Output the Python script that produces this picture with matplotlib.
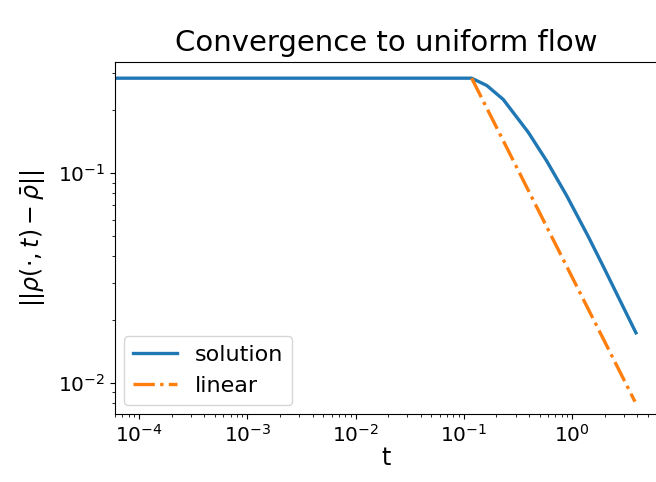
import matplotlib
matplotlib.use("Agg")
import matplotlib.pyplot as plt

# data
t_sol = [6.0e-5, 1e-4, 1e-3, 1e-2, 0.05, 0.118, 0.163, 0.231, 0.394, 0.582, 0.889, 1.41, 1.94, 2.67, 3.88]
sol = [0.283, 0.283, 0.283, 0.283, 0.283, 0.283, 0.261, 0.224, 0.156, 0.114, 0.078, 0.0497, 0.0358, 0.0256, 0.0173]
t_lin = [0.118, 3.8]
lin = [0.283, 0.00813]

W, H = 656, 482
fig = plt.figure(figsize=(W / 100, H / 100), dpi=100)
ax = fig.add_axes([115 / W, 1 - 414 / H, 545 / W, (414 - 62) / H])
ax.loglog(t_sol, sol, color="#1f77b4", lw=2.4, label="solution")
ax.loglog(t_lin, lin, color="#ff7f0e", lw=2.4, ls="-.", label="linear")
ax.set_xlim(6.0e-5, 6.47)
ax.set_ylim(0.0071, 0.338)
ax.set_title("Convergence to uniform flow", fontsize=21, pad=8, x=(386 - 115) / 545)
ax.set_xlabel("t", fontsize=17)
ax.xaxis.set_label_coords((386 - 115) / 545, -0.09)
ax.set_ylabel(r"$||\rho(\cdot,t)-\bar{\rho}||$", fontsize=17)
ax.yaxis.set_label_coords(-(115 - 47) / 545, 0.5)
ax.tick_params(labelsize=14.5)
ax.legend(loc="lower left", fontsize=16, borderaxespad=0.4)
fig.savefig("out.png", dpi=100)
